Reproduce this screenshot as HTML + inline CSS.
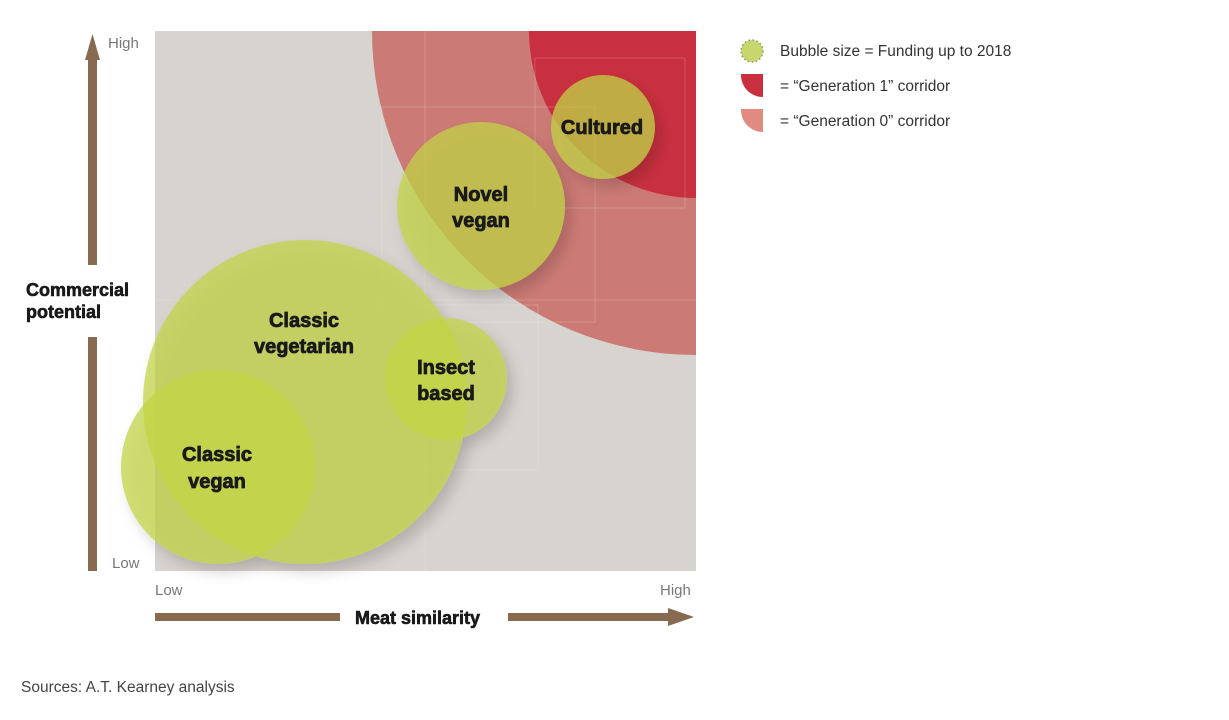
<!DOCTYPE html>
<html><head><meta charset="utf-8"><style>
body{margin:0;background:#fff;width:1229px;height:720px;overflow:hidden}
svg{display:block}
</style></head><body>
<svg width="1229" height="720" viewBox="0 0 1229 720" font-family="Liberation Sans, sans-serif">
<defs>
<clipPath id="plot"><rect x="155" y="31" width="541" height="540"/></clipPath>
<filter id="sh" x="-30%" y="-30%" width="160%" height="160%"><feDropShadow dx="6" dy="8" stdDeviation="7" flood-color="#000" flood-opacity="0.22"/></filter>
</defs>
<rect x="155" y="31" width="541" height="540" fill="#d7d3cf"/>
<g clip-path="url(#plot)">
<circle cx="696" cy="31" r="324" fill="#cc7a75"/>
<circle cx="696" cy="31" r="167" fill="#c9303f"/>
</g>
<g stroke="#ffffff" stroke-opacity="0.18" stroke-width="1" fill="none">
<line x1="425" y1="31" x2="425" y2="571"/>
<line x1="155" y1="300" x2="696" y2="300"/>
<rect x="370" y="305" width="168" height="165"/>
<rect x="382" y="107" width="213" height="215"/>
<rect x="535" y="58" width="150" height="150"/>
</g>
<g fill="rgba(194,212,70,0.74)" filter="url(#sh)">
<circle cx="305" cy="402" r="162"/>
<circle cx="446" cy="379" r="61"/>
<circle cx="218" cy="467" r="97"/>
<circle cx="481" cy="206" r="84"/>
<circle cx="603" cy="127" r="52"/>
</g>
<g font-weight="bold" fill="#1a1a1a" stroke="#1a1a1a" stroke-width="0.8" font-size="20" text-anchor="middle">
<text x="602" y="134">Cultured</text>
<text x="481" y="201">Novel</text><text x="481" y="227">vegan</text>
<text x="304" y="327">Classic</text><text x="304" y="353">vegetarian</text>
<text x="446" y="374">Insect</text><text x="446" y="400">based</text>
<text x="217" y="461">Classic</text><text x="217" y="488">vegan</text>
</g>
<g fill="#876a4f">
<rect x="88" y="60" width="9" height="205"/><polygon points="92.5,34 85,60 100,60"/>
<rect x="88" y="337" width="9" height="234"/>
<rect x="155" y="613" width="185" height="8"/>
<rect x="508" y="613" width="160" height="8"/><polygon points="668,608 694,617 668,626"/>
</g>
<g fill="#777" font-size="15">
<text x="108" y="48">High</text>
<text x="112" y="568">Low</text>
<text x="155" y="595">Low</text>
<text x="660" y="595">High</text>
</g>
<g font-weight="bold" fill="#1a1a1a" stroke="#1a1a1a" stroke-width="0.6" font-size="18">
<text x="26" y="296">Commercial</text><text x="26" y="318">potential</text>
<text x="355" y="624">Meat similarity</text>
</g>
<g font-size="15.5" fill="#333">
<circle cx="752" cy="51" r="11" fill="#c9d56e" stroke="#8a9a50" stroke-width="1.5" stroke-dasharray="1.5 2.5"/>
<text x="780" y="56">Bubble size = Funding up to 2018</text>
<path d="M741,74 h22 v23 A22,22 0 0 1 741,74 z" fill="#c9303f"/>
<text x="780" y="91">= “Generation 1” corridor</text>
<path d="M741,109 h22 v23 A22,22 0 0 1 741,109 z" fill="#e08a80"/>
<text x="780" y="126">= “Generation 0” corridor</text>
<text x="21" y="692" fill="#444">Sources: A.T. Kearney analysis</text>
</g>
</svg>
</body></html>
